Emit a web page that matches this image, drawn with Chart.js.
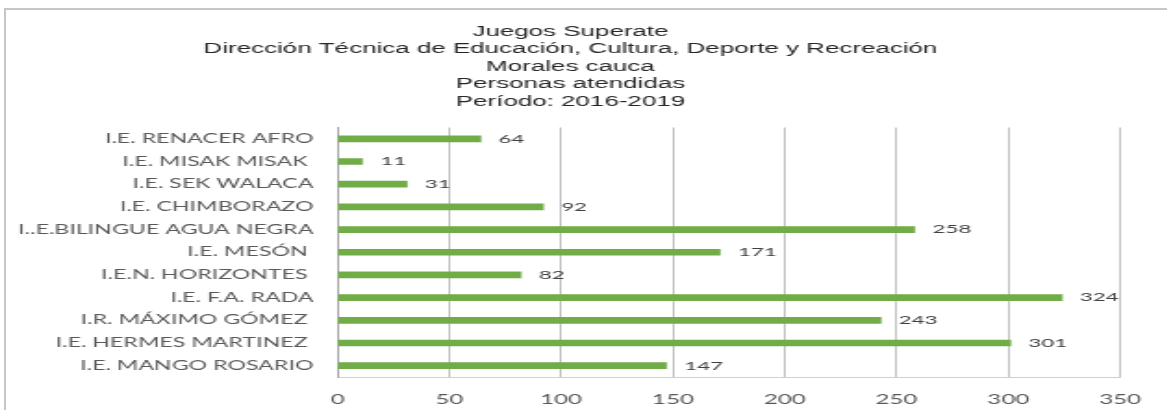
<!DOCTYPE html>
<html>
<head>
<meta charset="utf-8">
<script src="https://cdn.jsdelivr.net/npm/chart.js@4.4.0/dist/chart.umd.min.js"></script>
<style>
  html, body { margin: 0; padding: 0; background: #fff; }
  #frame {
    position: absolute; left: 4px; top: 8px; width: 1163px; height: 402px;
    border-top: 2px solid #c6c6c6; border-left: 2px solid #c6c6c6; box-sizing: border-box;
  }
  #wrap { position: absolute; left: 0; top: 0; height: 410px; transform-origin: 0 0; }
</style>
</head>
<body>
<div id="frame"></div>
<div id="wrap"><canvas id="chart"></canvas></div>
<script>
// datos (de arriba hacia abajo)
const schools = [
  'I.E. RENACER AFRO',
  'I.E. MISAK MISAK ',
  'I.E. SEK WALACA',
  'I.E. CHIMBORAZO',
  'I..E.BILINGUE AGUA NEGRA',
  'I.E. MESÓN ',
  'I.E.N. HORIZONTES ',
  'I.E. F.A. RADA',
  'I.R. MÁXIMO GÓMEZ ',
  'I.E. HERMES MARTINEZ ',
  'I.E. MANGO ROSARIO'
];
const attended = [64, 11, 31, 92, 258, 171, 82, 324, 243, 301, 147];
const titleLines = [
  'Juegos Superate',
  'Dirección Técnica de Educación, Cultura, Deporte y Recreación',
  'Morales cauca',
  'Personas atendidas',
  'Período: 2016-2019'
];
const xMin = 0, xMax = 350, xStep = 50;

// the picture is stretched sideways, so draw narrow and scale x
const SX = 1.85;
const W = 1167 / SX;
const wrap = document.getElementById('wrap');
wrap.style.width = W + 'px';
wrap.style.transform = 'scaleX(' + SX + ')';

const plotLeft = 337 / SX;
const plotRight = 1128 / SX;
const plotBottom = 377;

const valueLabels = {
  id: 'valueLabels',
  afterDatasetsDraw(chart) {
    const ctx = chart.ctx;
    const meta = chart.getDatasetMeta(0);
    ctx.save();
    ctx.font = '12px Lato';
    ctx.fillStyle = '#404040';
    ctx.textAlign = 'left';
    ctx.textBaseline = 'middle';
    meta.data.forEach((bar, i) => {
      ctx.fillText(String(attended[i]), bar.x + 18 / SX, bar.y);
    });
    ctx.restore();
  }
};

new Chart(document.getElementById('chart').getContext('2d'), {
  type: 'bar',
  data: {
    labels: schools,
    datasets: [{
      data: attended,
      backgroundColor: '#70ad47',
      barThickness: 6
    }]
  },
  options: {
    indexAxis: 'y',
    responsive: true,
    maintainAspectRatio: false,
    animation: false,
    layout: { padding: { left: 6, right: W - plotRight, top: 0, bottom: 0 } },
    plugins: {
      legend: { display: false },
      tooltip: { enabled: false },
      title: {
        display: true,
        text: titleLines,
        color: '#262626',
        font: { family: 'Liberation Sans', size: 14, weight: 'normal', lineHeight: 1.25 },
        padding: { top: 23, bottom: 17 }
      }
    },
    scales: {
      x: {
        min: xMin, max: xMax,
        ticks: { stepSize: xStep, color: '#595959', font: { family: 'Lato', size: 13 }, padding: 15 },
        grid: { color: '#bfbfbf', drawTicks: false },
        border: { display: true, color: '#cfcfd8' },
        afterFit(scale) { scale.height = 410 - plotBottom; }
      },
      y: {
        ticks: { color: '#595959', font: { family: 'Lato', size: 12.5 }, padding: 13, autoSkip: false },
        grid: { display: false, drawTicks: false },
        border: { display: true, color: '#a6a6a6' },
        afterFit(scale) { scale.width = plotLeft - 6; }
      }
    }
  },
  plugins: [valueLabels]
});
</script>
</body>
</html>
